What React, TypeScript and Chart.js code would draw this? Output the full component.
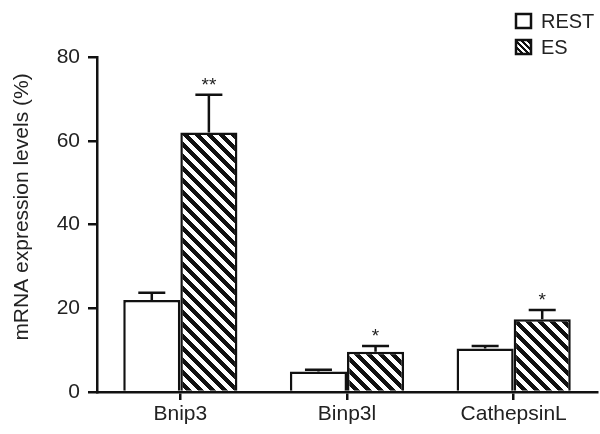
import React, { useEffect, useRef } from "react";
import { Chart, registerables } from "chart.js";

Chart.register(...registerables);

const categories = ["Bnip3", "Binp3l", "CathepsinL"];
const restValues = [22, 4.9, 10.4];
const restErrors = [1.7, 0.4, 0.6];
const esValues = [62, 9.6, 17.4];
const esErrors = [9, 1.4, 2.2];
const esSignificance = ["**", "*", "*"];
const yTicks = [0, 20, 40, 60, 80];
const seriesNames = ["REST", "ES"];
const yTitle = "mRNA expression levels (%)";

const FONT = '"Liberation Sans", Arial, Helvetica, sans-serif';

function makePattern(ctx: CanvasRenderingContext2D, s: number, w: number) {
  const c = document.createElement("canvas");
  c.width = s;
  c.height = s;
  const p = c.getContext("2d")!;
  const img = p.createImageData(s, s);
  for (let y = 0; y < s; y++) {
    for (let x = 0; x < s; x++) {
      const d = (((x - y) % s) + s) % s;
      const v = d < w ? 17 : 255;
      const k = (y * s + x) * 4;
      img.data[k] = v;
      img.data[k + 1] = v;
      img.data[k + 2] = v;
      img.data[k + 3] = 255;
    }
  }
  p.putImageData(img, 0, 0);
  return ctx.createPattern(c, "repeat")!;
}

export default function App() {
  const ref = useRef<HTMLCanvasElement | null>(null);

  useEffect(() => {
    const canvas = ref.current!;
    const ctx = canvas.getContext("2d")!;
    const hatch = makePattern(ctx, 12, 6);
    const smallHatch = makePattern(ctx, 6, 3);

    const errorPlugin = {
      id: "errbars",
      afterDatasetsDraw(chart: any) {
        const c = chart.ctx as CanvasRenderingContext2D;
        const yScale = chart.scales.y;
        const sets = [
          { vals: restValues, errs: restErrors, sig: null as string[] | null },
          { vals: esValues, errs: esErrors, sig: esSignificance },
        ];
        sets.forEach((s, di) => {
          const meta = chart.getDatasetMeta(di);
          meta.data.forEach((el: any, i: number) => {
            const x = el.x;
            const yTop = yScale.getPixelForValue(s.vals[i]);
            const yErr = yScale.getPixelForValue(s.vals[i] + s.errs[i]);
            c.save();
            c.strokeStyle = "#111";
            c.lineWidth = 2.5;
            c.beginPath();
            c.moveTo(x, yTop);
            c.lineTo(x, yErr);
            c.moveTo(x - 13.5, yErr);
            c.lineTo(x + 13.5, yErr);
            c.stroke();
            if (s.sig) {
              c.fillStyle = "#222";
              c.font = "19px " + FONT;
              c.textAlign = "center";
              c.textBaseline = "alphabetic";
              c.fillText(s.sig[i], x, yErr - 15 + 11);
            }
            c.restore();
          });
        });
      },
      afterDraw(chart: any) {
        const c = chart.ctx as CanvasRenderingContext2D;
        c.save();
        const items = [
          { name: seriesNames[0], fill: "#ffffff", y: 13 },
          { name: seriesNames[1], fill: smallHatch, y: 39 },
        ];
        items.forEach((it) => {
          c.fillStyle = it.fill as any;
          c.fillRect(516, it.y + 1, 15, 14);
          c.strokeStyle = "#111";
          c.lineWidth = 2.5;
          c.strokeRect(516, it.y + 1, 15, 14);
          c.fillStyle = "#222";
          c.font = "20px " + FONT;
          c.textAlign = "left";
          c.textBaseline = "alphabetic";
          c.fillText(it.name, 541, it.y + 15);
        });
        // y-axis title
        c.translate(22, 207);
        c.rotate(-Math.PI / 2);
        c.fillStyle = "#222";
        c.font = "21px " + FONT;
        c.textAlign = "center";
        c.textBaseline = "middle";
        c.fillText(yTitle, 0, 0);
        c.restore();
      },
    };

    const chart = new Chart(canvas, {
      type: "bar",
      data: {
        labels: categories,
        datasets: [
          {
            label: seriesNames[0],
            data: restValues,
            backgroundColor: "#ffffff",
            borderColor: "#111",
            borderWidth: 2.5,
          },
          {
            label: seriesNames[1],
            data: esValues,
            backgroundColor: hatch as any,
            borderColor: "#111",
            borderWidth: 2.5,
          },
        ],
      },
      options: {
        responsive: false,
        animation: false,
        layout: { padding: { top: 57, right: 3, left: 0, bottom: 0 } },
        datasets: {
          bar: { categoryPercentage: 0.685, barPercentage: 1 },
        },
        plugins: {
          legend: { display: false },
          tooltip: { enabled: false },
        },
        scales: {
          x: {
            grid: {
              display: true,
              drawOnChartArea: false,
              drawTicks: true,
              tickLength: 8,
              offset: false,
              color: "#111",
              lineWidth: 2.5,
            },
            border: { display: true, color: "#111", width: 2.5 },
            ticks: {
              color: "#222",
              font: { size: 21, family: FONT },
              padding: 2,
            },
            afterFit(scale: any) {
              scale.height = 42;
            },
          },
          y: {
            min: 0,
            max: 80,
            afterBuildTicks(scale: any) {
              scale.ticks = yTicks.map((v) => ({ value: v }));
            },
            grid: {
              display: true,
              drawOnChartArea: false,
              drawTicks: true,
              tickLength: 9,
              color: "#111",
              lineWidth: 2.5,
            },
            border: { display: true, color: "#111", width: 2.5 },
            ticks: {
              color: "#222",
              font: { size: 21, family: FONT },
              padding: 8,
            },
            title: { display: false },
            afterFit(scale: any) {
              scale.width = 97;
            },
          },
        },
      },
      plugins: [errorPlugin],
    });

    return () => chart.destroy();
  }, []);

  return (
    <div style={{ position: "fixed", left: 0, top: 0, width: 600, height: 434, background: "#fff" }}>
      <canvas ref={ref} width={600} height={434} style={{ display: "block" }} />
    </div>
  );
}
